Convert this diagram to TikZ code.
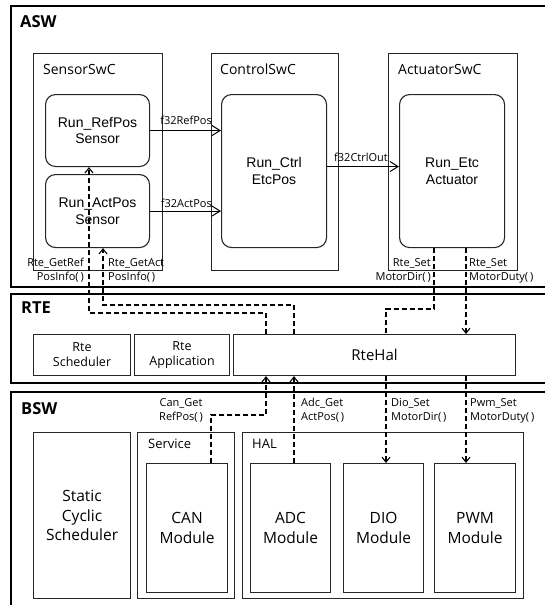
\documentclass[tikz,border=0pt]{standalone}
\usepackage{fontspec}
\setmainfont{Open Sans}
\newfontfamily\runfont{Liberation Sans}
\usetikzlibrary{arrows.meta}

\tikzset{
  frame/.style={draw=black, line width=2.4pt, anchor=north west, inner sep=0pt},
  box/.style={draw=black!85, line width=1.1pt, anchor=north west, inner sep=0pt, align=center},
  runbox/.style={box, rounded corners=10pt, font=\runfont\fontsize{14}{16.5}\selectfont},
  modbox/.style={box, font=\fontsize{15.5}{19.5}\selectfont},
  rtebox/.style={box, font=\fontsize{12.5}{15}\selectfont},
  halbox/.style={box, font=\fontsize{15}{18}\selectfont},
  title/.style={anchor=west, inner sep=0pt, font=\fontsize{14}{16}\selectfont},
  grptitle/.style={anchor=west, inner sep=0pt, font=\fontsize{13}{15}\selectfont},
  layer/.style={anchor=west, inner sep=0pt, font=\bfseries\fontsize{16.5}{18}\selectfont},
  sig/.style={inner sep=0pt, font=\fontsize{11}{14}\selectfont},
  flow/.style={draw=black, line width=1pt, -{Straight Barb[length=8pt,width=10pt]}},
  dline/.style={draw=black, line width=1.1pt, dash pattern=on 5pt off 3pt},
  dflow/.style={dline, -{Straight Barb[length=5pt,width=8pt]}},
}

\begin{document}
\begin{tikzpicture}[x=1pt,y=-1pt]
\useasboundingbox (0,0) rectangle (545,605);

% layer frames
\node[frame, minimum width=535pt, minimum height=281pt] (asw) at (10,5) {};
\node[frame, minimum width=535pt, minimum height=89pt] (rte) at (10,293) {};
\node[frame, minimum width=535pt, minimum height=240pt] (bsw) at (10,391) {};
\node[layer] (aswlbl) at (20,22) {ASW};
\node[layer] (rtelbl) at (21,308) {RTE};
\node[layer] (bswlbl) at (21,409) {BSW};

% ASW: software components
\node[box, minimum width=129pt, minimum height=217pt] (sensor) at (33,53) {};
\node[box, minimum width=127pt, minimum height=217pt] (control) at (211,53) {};
\node[box, minimum width=129pt, minimum height=217pt] (actuator) at (388,53) {};
\node[title] (sensorlbl) at (43,69) {SensorSwC};
\node[title] (controllbl) at (220,69) {ControlSwC};
\node[title] (actuatorlbl) at (398,69) {ActuatorSwC};

\node[runbox, minimum width=104pt, minimum height=72pt] (refpos) at (45,94) {Run\_RefPos\\Sensor};
\node[runbox, minimum width=104pt, minimum height=73pt] (actpos) at (45,174) {Run\_ActPos\\Sensor};
\node[runbox, minimum width=105pt, minimum height=153pt] (ctrl) at (221,94) {Run\_Ctrl\\EtcPos};
\node[runbox, minimum width=105pt, minimum height=153pt] (etc) at (399,94) {Run\_Etc\\Actuator};

% RTE
\node[rtebox, minimum width=97pt, minimum height=41pt] (rtesched) at (33,334) {Rte\\Scheduler};
\node[rtebox, minimum width=95pt, minimum height=41pt] (rteapp) at (134,334) {Rte\\Application};
\node[halbox, minimum width=282pt, minimum height=41pt] (rtehal) at (233,334) {RteHal};

% BSW
\node[modbox, minimum width=97pt, minimum height=166pt] (scs) at (33,432) {Static\\Cyclic\\Scheduler};
\node[box, minimum width=97pt, minimum height=166pt] (service) at (137,432) {};
\node[box, minimum width=281pt, minimum height=166pt] (hal) at (242,432) {};
\node[grptitle] (servicelbl) at (148,444) {Service};
\node[grptitle] (hallbl) at (252,444) {HAL};
\node[modbox, minimum width=81pt, minimum height=129pt] (can) at (146,463) {CAN\\Module};
\node[modbox, minimum width=80pt, minimum height=129pt] (adc) at (250,463) {ADC\\Module};
\node[modbox, minimum width=80pt, minimum height=129pt] (dio) at (343,463) {DIO\\Module};
\node[modbox, minimum width=81pt, minimum height=129pt] (pwm) at (434,463) {PWM\\Module};

% data flow between runnables
\draw[flow] (refpos.east) -- (ctrl.west |- refpos.east);
\draw[flow] (actpos.east) -- (ctrl.west |- actpos.east);
\draw[flow] ([yshift=4.5pt]ctrl.east) -- ([yshift=4.5pt]etc.west);
\node[sig, anchor=base east] (lref) at (212,124) {f32RefPos};
\node[sig, anchor=base east] (lact) at (212,207) {f32ActPos};
\node[sig, anchor=base east] (lout) at (388,161) {f32CtrlOut};

% RTE interface routes
\coordinate (a1) at (266,313);
\coordinate (a2) at (89,313);
\coordinate (b1) at (294,305);
\coordinate (b2) at (103,305);
\coordinate (c1) at (434,309);
\coordinate (c2) at (386,309);
\coordinate (d1) at (466,309);
\coordinate (e1) at (211,415);
\coordinate (e2) at (266,415);

\draw[dflow] (rtehal.north -| a1) -- (a1) -- (a2) -- (refpos.south -| a2);
\draw[dflow] (rtehal.north -| b1) -- (b1) -- (b2) -- (actpos.south -| b2);
\draw[dline] (etc.south -| c1) -- (c1) -- (c2) -- (rtehal.north -| c2);
\draw[dflow] (etc.south -| d1) -- (rtehal.north -| d1);
\draw[dflow] (can.north -| e1) -- (e1) -- (e2) -- (rtehal.south -| e2);
\draw[dflow] (adc.north -| b1) -- (rtehal.south -| b1);
\draw[dflow] (rtehal.south -| c2) -- (dio.north -| c2);
\draw[dflow] (rtehal.south -| d1) -- (pwm.north -| d1);

% interface labels
\node[sig, anchor=north east, align=right] (lgetref) at (84,258) {Rte\_GetRef\\PosInfo(\,)};
\node[sig, anchor=north west, align=left] (lgetact) at (108,258) {Rte\_GetAct\\PosInfo(\,)};
\node[sig, anchor=north east, align=right] (lsetdir) at (431,258) {Rte\_Set\\MotorDir(\,)};
\node[sig, anchor=north west, align=left] (lsetduty) at (469,258) {Rte\_Set\\MotorDuty(\,)};
\node[sig, anchor=north east, align=center] (lcan) at (203,398) {Can\_Get\\RefPos(\,)};
\node[sig, anchor=north west, align=left] (ladc) at (301,398) {Adc\_Get\\ActPos(\,)};
\node[sig, anchor=north west, align=left] (ldio) at (391,398) {Dio\_Set\\MotorDir(\,)};
\node[sig, anchor=north west, align=left] (lpwm) at (470,398) {Pwm\_Set\\MotorDuty(\,)};
\end{tikzpicture}
\end{document}
